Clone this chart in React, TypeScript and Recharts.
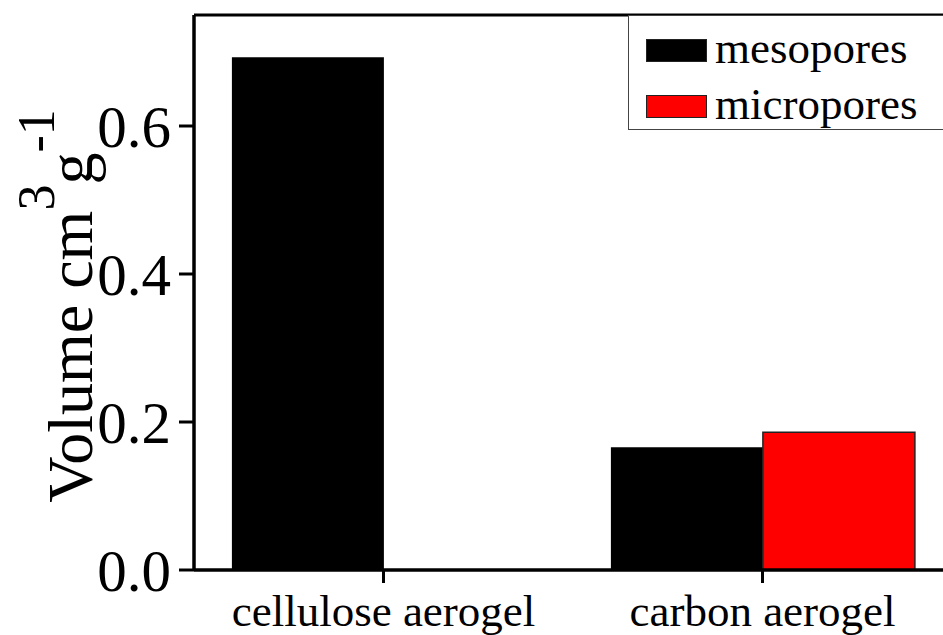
import React from 'react';
import { BarChart, Bar, XAxis, YAxis, Legend, ReferenceLine } from 'recharts';

// values
const categories = ['cellulose aerogel', 'carbon aerogel'];
const mesopores = [0.693, 0.166];
const micropores = [0, 0.186];
const yTicks = [0, 0.2, 0.4, 0.6];

const data = categories.map((name, i) => ({
    name,
    mesopores: mesopores[i],
    micropores: micropores[i],
}));

const FONT = 'Liberation Serif, Tinos, Times New Roman, Times, serif';

function YTitle() {
    return (
        <text x={92} y={306} transform="rotate(-90, 92, 306)" textAnchor="middle" fontFamily={FONT} fill="#000" style={{ fontFamily: FONT }}>
            <tspan fontSize={64}>Volume cm</tspan>
            <tspan fontSize={52} dy={-38}>3</tspan>
            <tspan fontSize={64} dy={38}>g</tspan>
            <tspan fontSize={52} dy={-38}>-1</tspan>
        </text>
    );
}

const renderLegend = (props: any) => {
    const { payload } = props;
    return (
        <div style={{
            border: '1.5px solid #444', height: 115, width: 340, boxSizing: 'border-box',
            background: '#fff', paddingTop: 4, paddingLeft: 17, fontFamily: FONT,
        }}>
            {payload.map((entry: any) => (
                <div key={entry.value} style={{ display: 'flex', alignItems: 'flex-start', height: 56, lineHeight: '56px', fontSize: 45, color: '#000' }}>
                    <span style={{
                        display: 'inline-block', width: 61, height: 23, marginTop: 19, marginRight: 8,
                        background: entry.color, border: '1.5px solid #222', boxSizing: 'border-box',
                    }} />
                    <span>{entry.value}</span>
                </div>
            ))}
        </div>
    );
};

export default function App() {
    return (
        <div style={{ position: 'absolute', left: 0, top: 0, width: 943, height: 635, overflow: 'hidden', background: '#fff', fontFamily: FONT }}>
            <BarChart width={952} height={635} data={data} margin={{ top: 15, right: 0, bottom: 0, left: 0 }} barCategoryGap="10%" barGap={0} style={{ fontFamily: FONT }}>
                <XAxis
                    dataKey="name"
                    height={65}
                    interval={0}
                    tickSize={13}
                    tickMargin={11}
                    axisLine={{ stroke: '#000', strokeWidth: 3.5 }}
                    tickLine={{ stroke: '#000', strokeWidth: 3 }}
                    tick={{ fill: '#000', fontSize: 45, fontFamily: FONT }}
                />
                <YAxis
                    width={194}
                    domain={[0, 0.75]}
                    ticks={yTicks}
                    tickFormatter={(v: number) => v.toFixed(1)}
                    tickSize={15}
                    tickMargin={8}
                    axisLine={{ stroke: '#000', strokeWidth: 3.5 }}
                    tickLine={{ stroke: '#000', strokeWidth: 3 }}
                    tick={{ fill: '#000', fontSize: 59, fontFamily: FONT }}
                    label={<YTitle />}
                />
                <ReferenceLine y={0.75} stroke="#000" strokeWidth={3} />
                <Legend
                    layout="vertical"
                    align="center"
                    verticalAlign="middle"
                    content={renderLegend}
                    wrapperStyle={{ position: 'absolute', left: 628, top: 15, width: 340, height: 115 }}
                />
                <Bar dataKey="mesopores" fill="#000000" isAnimationActive={false} />
                <Bar dataKey="micropores" fill="#ff0000" stroke="#222" strokeWidth={1.5} isAnimationActive={false} />
            </BarChart>
        </div>
    );
}
